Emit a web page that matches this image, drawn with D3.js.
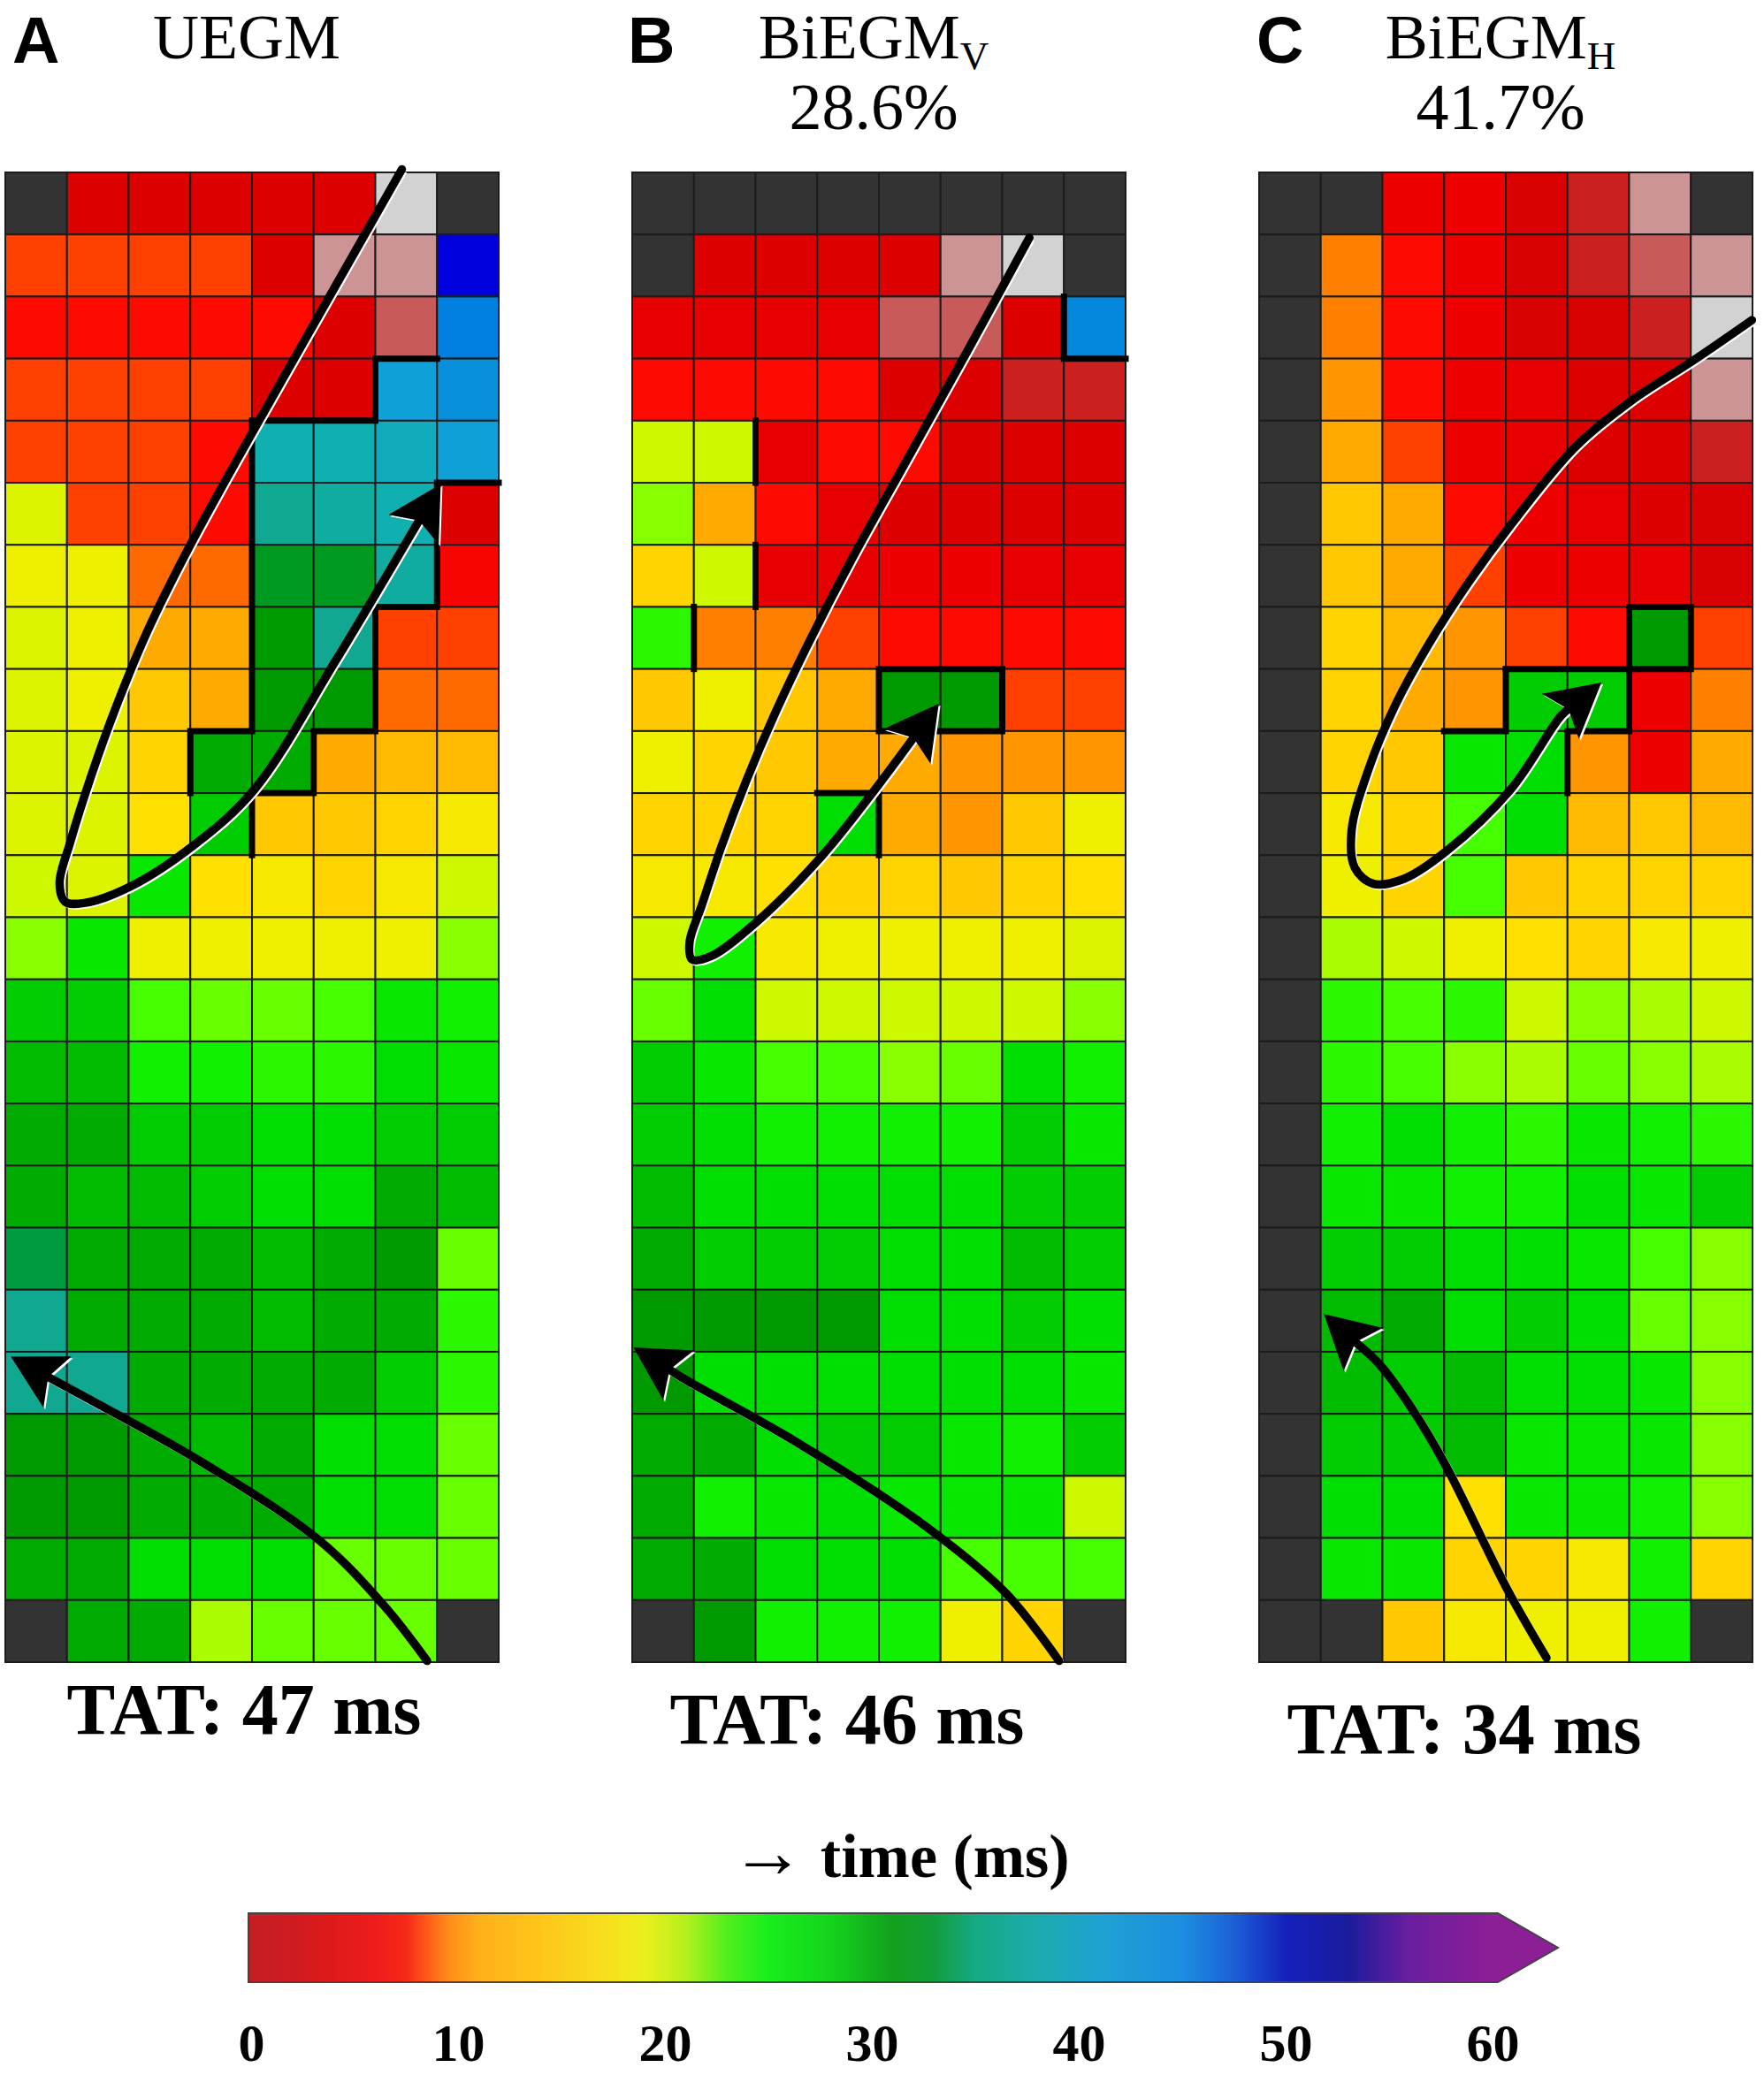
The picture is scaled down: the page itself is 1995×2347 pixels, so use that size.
<!DOCTYPE html>
<html>
<head>
<meta charset="utf-8">
<script src="https://cdn.jsdelivr.net/npm/d3@7"></script>
<style>
  body { margin: 0; background: #fff; }
</style>
</head>
<body>
<svg id="chart"></svg>
<script>
// activation time (ms) per electrode, 24 rows x 8 columns
// "x" = no electrode, "g" = grey, "p" = light pink, "r" = rose (unreliable annotation)
const uegm = [
  ["x",2,2,2,2,2,"g","x"],
  [8,8,8,8,2,"p","p",50],
  [6,6,6,6,6,2,"r",45],
  [8,8,8,8,2,2,41,43],
  [8,8,8,6,38,38,39,41],
  [19,8,8,6,36,37,38,2],
  [18,18,9,9,33,33,37,5],
  [19,18,12,12,32,36,8,8],
  [19,18,14,12,32,32,9,9],
  [19,19,15,31,31,12,13,13],
  [19,19,16,29,14,14,15,17],
  [20,19,27,16,17,15,17,20],
  [22,27,18,18,18,18,18,22],
  [29,29,24,23,23,24,27,26],
  [30,30,26,26,25,25,28,27],
  [31,31,29,29,28,28,29,29],
  [31,30,30,29,28,28,31,30],
  [34,31,31,31,30,31,32,23],
  [36,31,31,31,30,31,31,25],
  [36,36,31,31,31,31,29,25],
  [32,32,31,30,31,28,28,23],
  [32,32,31,31,31,28,28,23],
  [31,31,28,28,28,23,23,23],
  ["x",31,31,21,23,23,23,"x"]
];

const biegmV = [
  ["x","x","x","x","x","x","x","x"],
  ["x",2,2,2,2,"p","g","x"],
  [3,3,3,3,"r","r",2,44],
  [6,6,6,6,2,2,0,0],
  [20,20,3,6,6,2,2,2],
  [22,12,6,3,2,2,2,2],
  [15,20,3,3,4,4,3,3],
  [25,10,10,8,6,6,6,6],
  [14,18,14,12,32,32,8,8],
  [18,15,14,12,12,11,11,11],
  [15,15,15,28,12,11,14,18],
  [17,17,16,15,15,14,15,16],
  [20,26,17,18,18,18,18,19],
  [23,28,20,20,20,20,20,22],
  [29,27,24,24,22,23,28,26],
  [29,28,26,26,26,26,29,27],
  [30,28,28,28,28,28,29,29],
  [31,29,29,29,28,28,30,29],
  [32,32,32,32,28,28,29,28],
  [32,28,28,28,28,28,28,27],
  [31,31,28,29,29,27,26,29],
  [31,26,27,28,27,27,27,20],
  [31,31,28,28,28,24,24,24],
  ["x",32,26,26,26,18,15,"x"]
];

const biegmH = [
  ["x","x",4,4,1,0,"p","x"],
  ["x",10,6,4,1,0,"r","p"],
  ["x",10,6,4,1,1,0,"g"],
  ["x",11,6,4,3,2,2,"p"],
  ["x",12,8,4,3,2,2,0],
  ["x",14,12,6,4,3,2,1],
  ["x",14,12,8,4,4,3,1],
  ["x",15,13,11,8,6,32,8],
  ["x",15,12,11,29,29,4,10],
  ["x",15,14,27,28,11,4,12],
  ["x",17,15,24,28,13,14,13],
  ["x",18,15,24,14,15,15,15],
  ["x",21,20,18,16,15,17,18],
  ["x",25,24,25,20,22,21,20],
  ["x",25,24,22,21,23,22,21],
  ["x",26,28,26,25,27,26,25],
  ["x",27,27,26,26,28,27,29],
  ["x",29,29,28,28,27,24,22],
  ["x",30,31,28,29,28,23,22],
  ["x",30,29,30,28,28,27,22],
  ["x",29,29,30,27,27,27,22],
  ["x",28,28,16,27,27,26,22],
  ["x",27,27,15,15,17,26,15],
  ["x","x",14,17,18,18,26,"x"]
];

const panelLetters = ["A", "B", "C"];
const mapTitles = ["UEGM", "BiEGM", "BiEGM"];
const titleSubs = ["", "V", "H"];
const agreement = [null, 28.6, 41.7];
const tatMs = [47, 46, 34];
const timeTicks = [0, 10, 20, 30, 40, 50, 60];

// conduction block lines, in grid units [col, row]
const blocksA = [
  [[7,3],[6,3],[6,4],[4,4],[4,9],[3,9],[3,10]],
  [[8,5],[7,5],[7,7],[6,7],[6,9],[5,9],[5,10],[4,10],[4,11]]
];
const blocksB = [
  [[7,2],[7,3],[8,3]],
  [[2,4],[2,5]],
  [[2,6],[2,7]],
  [[1,7],[1,8]],
  [[4,8],[6,8],[6,9],[4,9],[4,8]],
  [[3,10],[4,10],[4,11]]
];
const blocksC = [
  [[4,8],[7,8],[7,7],[6,7],[6,9],[5,9],[5,10]],
  [[4,8],[4,9],[3,9]]
];

// activation wavefront arrows, in grid units [col, row], last point = tip
const loopA = [[6.43,-0.05],[5.2,2.1],[4.0,4.2],[3.0,6.0],[2.3,7.4],[1.8,8.6],[1.4,9.7],[1.05,10.8],[0.88,11.45],[0.97,11.75],[1.28,11.77],[2.02,11.51],[3.07,10.83],[4.04,9.94],[5.33,7.91],[7.06,5.02]];
const entryA = [[6.84,23.98],[6.15,23.1],[5.08,22.03],[3.14,20.75],[1.2,19.68],[0.09,19.08]];
const loopB = [[6.44,1.05],[5.45,2.85],[4.5,4.55],[3.55,6.25],[2.85,7.6],[2.3,8.75],[1.85,9.8],[1.45,10.85],[1.13,11.8],[0.93,12.4],[0.97,12.68],[1.27,12.63],[2.0,12.09],[3.05,11.04],[3.9,9.99],[4.97,8.56]];
const entryB = [[6.92,23.98],[6.06,22.89],[4.77,21.82],[2.62,20.43],[0.9,19.47],[0.02,18.93]];
const loopC = [[7.99,2.38],[7.07,3.01],[6.02,3.69],[5.13,4.42],[4.08,5.68],[3.4,6.6],[2.75,7.6],[2.2,8.6],[1.78,9.6],[1.5,10.6],[1.55,11.2],[1.85,11.46],[2.35,11.38],[3.03,10.94],[4.08,9.94],[4.9,8.75],[5.55,8.22]];
const entryC = [[4.66,23.93],[4.02,22.82],[3.03,20.84],[2.5,19.95],[1.95,19.2],[1.05,18.39]];

// layout
const width = 1995, height = 2347;
const panelLeft = [6, 715, 1424];
const panelW = 558, gridTop = 195, gridBottom = 1880;
const tatX = [276, 958, 1656], tatY = [1961, 1972, 1983];

const svg = d3.select("#chart")
  .attr("width", width)
  .attr("height", height)
  .style("background", "#fff");

// colour scale for the cells
const cellColor = d3.scaleLinear()
  .domain([0, 1, 2, 4, 6, 8, 9, 10, 12, 14, 16, 18, 20, 22, 24, 26, 28, 30, 32, 34, 36, 38, 41, 45, 50, 55, 60])
  .range(["#cc2020", "#d80000", "#dd0000", "#ee0000", "#ff0a00", "#ff4000", "#ff6a00", "#ff8000", "#ffaa00", "#ffc800",
          "#ffe000", "#eef000", "#ccf800", "#88ff00", "#45ff00", "#10f000", "#00dd00", "#00bb00", "#009a00", "#009a40",
          "#10a890", "#10b0b0", "#10a0d8", "#0080e0", "#0000dd", "#5010b0", "#9020a0"])
  .clamp(true);
const specialColor = { x: "#333333", g: "#d2d2d2", p: "#cc9494", r: "#c85a5a" };

// colour scale for the colour bar
const barColor = d3.scaleLinear()
  .domain([0, 2, 4, 6, 7.5, 8.5, 9.5, 11, 14, 17, 19, 21, 23, 25, 28, 31, 33, 35, 38, 41, 45, 47.5, 50, 53, 56, 60])
  .range(["#c41e24", "#d01a20", "#e01a1a", "#ee1c1c", "#f52a18", "#ff5a1a", "#ff8c1a", "#ffb01a", "#ffc61a", "#f6de1c",
          "#ecef1c", "#b4f01c", "#50ef1c", "#18ee1c", "#14d41c", "#12a01e", "#129e3a", "#14aa84", "#1cacae", "#1ea2d2",
          "#1c8ee0", "#1c60d6", "#1420bc", "#1a1c9c", "#6a1ea0", "#8c1e96"]);

const panels = [
  { data: uegm, blocks: blocksA, arrows: [loopA, entryA] },
  { data: biegmV, blocks: blocksB, arrows: [loopB, entryB] },
  { data: biegmH, blocks: blocksC, arrows: [loopC, entryC] }
];

const curve = d3.line().curve(d3.curveCatmullRom.alpha(0.5));

function drawArrow(g, pts, xs, ys) {
  const P = pts.map(p => [xs(p[0]), ys(p[1])]);
  const tip = P[P.length - 1], prev = P[P.length - 2];
  const len = Math.hypot(tip[0] - prev[0], tip[1] - prev[1]);
  const ux = (tip[0] - prev[0]) / len, uy = (tip[1] - prev[1]) / len;
  const headL = 60, headW = 33;
  const shaft = P.slice(0, -1).concat([[tip[0] - ux * headL * 0.7, tip[1] - uy * headL * 0.7]]);
  const bx = tip[0] - ux * headL, by = tip[1] - uy * headL;
  const head = [tip, [bx - uy * headW, by + ux * headW],
    [tip[0] - ux * headL * 0.8, tip[1] - uy * headL * 0.8], [bx + uy * headW, by - ux * headW]];
  const headD = "M" + head.map(p => p.join(",")).join("L") + "Z";

  // thin white edge under the black arrow
  g.append("path").attr("d", curve(shaft)).attr("transform", "translate(2,2)")
    .attr("fill", "none").attr("stroke", "#fff").attr("stroke-width", 8.5);
  g.append("path").attr("d", headD).attr("transform", "translate(2,2)").attr("fill", "#fff");
  g.append("path").attr("d", curve(shaft))
    .attr("fill", "none").attr("stroke", "#000").attr("stroke-width", 9.5).attr("stroke-linecap", "round");
  g.append("path").attr("d", headD).attr("fill", "#000");
}

panels.forEach(function(panel, i) {
  const x = d3.scaleLinear().domain([0, 8]).range([panelLeft[i], panelLeft[i] + panelW]);
  const y = d3.scaleLinear().domain([0, 24]).range([gridTop, gridBottom]);
  const g = svg.append("g");

  const cells = [];
  panel.data.forEach((row, r) => row.forEach((v, c) => cells.push({ r, c, v })));

  g.selectAll("rect.cell")
    .data(cells)
    .join("rect")
    .attr("class", "cell")
    .attr("x", d => x(d.c))
    .attr("y", d => y(d.r))
    .attr("width", x(1) - x(0))
    .attr("height", y(1) - y(0))
    .attr("fill", d => typeof d.v === "number" ? cellColor(d.v) : specialColor[d.v])
    .attr("stroke", "#1c1c1c")
    .attr("stroke-width", 2);

  // conduction block
  const blockLine = d3.line().x(d => x(d[0])).y(d => y(d[1]));
  g.selectAll("path.block")
    .data(panel.blocks)
    .join("path")
    .attr("class", "block")
    .attr("d", blockLine)
    .attr("fill", "none")
    .attr("stroke", "#000")
    .attr("stroke-width", 7)
    .attr("stroke-linecap", "square")
    .attr("stroke-linejoin", "miter");

  panel.arrows.forEach(a => drawArrow(g, a, x, y));

  // panel letter and titles
  const cx = x(4) - 6;
  svg.append("text")
    .attr("x", [14, 710, 1421][i]).attr("y", 71)
    .attr("font-family", "Liberation Sans, Arial, sans-serif")
    .attr("font-weight", "bold").attr("font-size", 74)
    .text(panelLetters[i]);

  const title = svg.append("text")
    .attr("x", cx).attr("y", 66)
    .attr("text-anchor", "middle")
    .attr("font-family", "Liberation Serif, Times New Roman, serif")
    .attr("font-size", 72);
  title.append("tspan").text(mapTitles[i]);
  if (titleSubs[i]) {
    title.append("tspan").attr("font-size", 45).attr("dy", 12).text(titleSubs[i]);
  }

  if (agreement[i] !== null) {
    svg.append("text")
      .attr("x", cx).attr("y", 146)
      .attr("text-anchor", "middle")
      .attr("font-family", "Liberation Serif, Times New Roman, serif")
      .attr("font-size", 74)
      .text(agreement[i].toFixed(1) + "%");
  }

  svg.append("text")
    .attr("x", tatX[i]).attr("y", tatY[i])
    .attr("text-anchor", "middle")
    .attr("font-family", "Liberation Serif, Times New Roman, serif")
    .attr("font-weight", "bold").attr("font-size", 82)
    .text("TAT: " + tatMs[i] + " ms");
});

// colour bar
const barX = d3.scaleLinear().domain([0, 60]).range([284, 1688]);
const barTop = 2164, barBottom = 2242;

const grad = svg.append("defs").append("linearGradient")
  .attr("id", "timebar")
  .attr("gradientUnits", "userSpaceOnUse")
  .attr("x1", barX(0)).attr("x2", barX(60))
  .attr("y1", 0).attr("y2", 0);
grad.selectAll("stop")
  .data(d3.range(0, 60.01, 0.5))
  .join("stop")
  .attr("offset", d => d / 60)
  .attr("stop-color", d => barColor(d));

const barShape = [[barX(0) - 3, barTop], [barX(60) + 6, barTop], [barX(60) + 74, (barTop + barBottom) / 2],
  [barX(60) + 6, barBottom], [barX(0) - 3, barBottom]];
svg.append("path")
  .attr("d", "M" + barShape.map(p => p.join(",")).join("L") + "Z")
  .attr("fill", "url(#timebar)")
  .attr("stroke", "#444")
  .attr("stroke-width", 2);

const axis = svg.append("g")
  .attr("transform", `translate(0,${barBottom})`)
  .call(d3.axisBottom(barX).tickValues(timeTicks).tickSize(0).tickPadding(46));
axis.select(".domain").remove();
axis.selectAll("text")
  .attr("font-family", "Liberation Serif, Times New Roman, serif")
  .attr("font-weight", "bold")
  .attr("font-size", 60)
  .attr("fill", "#000");

const label = svg.append("text")
  .attr("x", 1018).attr("y", 2123)
  .attr("text-anchor", "middle")
  .attr("font-family", "Liberation Serif, Times New Roman, serif")
  .attr("font-weight", "bold")
  .attr("font-size", 70);
label.append("tspan").attr("font-size", 84).text("\u2192");
label.append("tspan").text(" time (ms)");
</script>
</body>
</html>
